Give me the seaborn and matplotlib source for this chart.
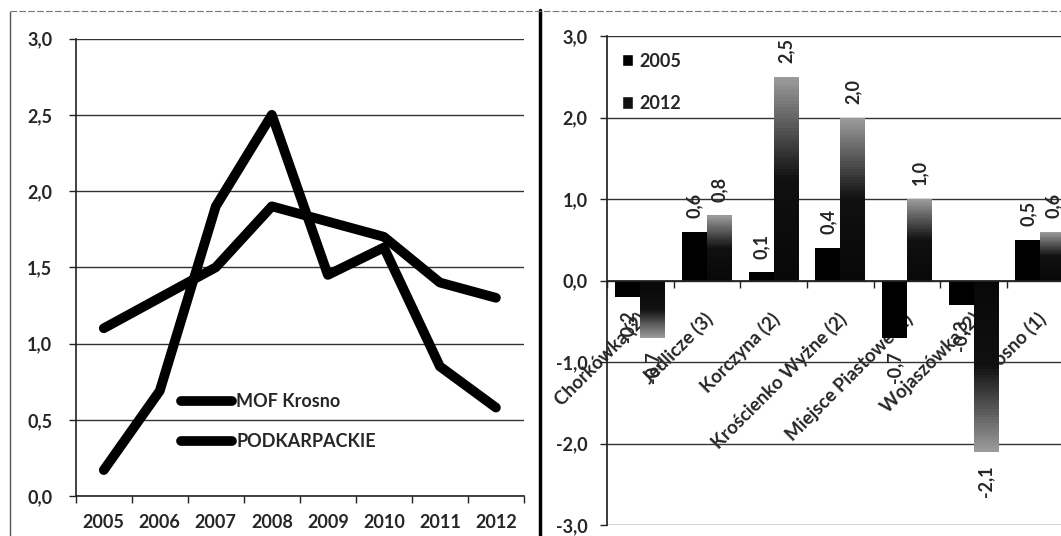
import numpy as np
import pandas as pd
import seaborn as sns
import matplotlib.pyplot as plt
from matplotlib.lines import Line2D
from matplotlib.patches import Patch
from matplotlib.colors import LinearSegmentedColormap
import matplotlib.transforms as mtransforms

# left chart data
years = ['2005', '2006', '2007', '2008', '2009', '2010', '2011', '2012']
mof_krosno = [0.17, 0.69, 1.90, 2.50, 1.45, 1.63, 0.85, 0.58]
podkarpackie = [1.1, 1.3, 1.5, 1.9, 1.8, 1.7, 1.4, 1.3]

# right chart data
gminy = ['Chorkówka (2)', 'Jedlicze (3)', 'Korczyna (2)', 'Krościenko Wyżne (2)',
         'Miejsce Piastowe (2)', 'Wojaszówka (2)', 'Krosno (1)']
v2005 = [-0.2, 0.6, 0.1, 0.4, -0.7, -0.3, 0.5]
v2012 = [-0.7, 0.8, 2.5, 2.0, 1.0, -2.1, 0.6]

sns.set_theme(style='white')
plt.rcParams['font.family'] = ['Lato', 'DejaVu Sans']
plt.rcParams['font.weight'] = 'bold'
FS = 13

def fmt(v):
    return f'{v:.1f}'.replace('.', ',')

fig = plt.figure(figsize=(10.61, 5.36), dpi=100)

# ---- left: line chart
ax1 = fig.add_axes([0.0714, 0.0746, 0.4224, 0.8534])
dfl = pd.DataFrame({
    'rok': years * 2,
    'wartosc': mof_krosno + podkarpackie,
    'seria': ['MOF Krosno'] * len(years) + ['PODKARPACKIE'] * len(years),
})
sns.lineplot(data=dfl, x='rok', y='wartosc', hue='seria', palette=['black', 'black'],
             lw=7, ax=ax1, sort=False, legend=False)
for ln in ax1.lines:
    ln.set_solid_capstyle('round')
    ln.set_solid_joinstyle('round')
ax1.set_xlim(-0.5, len(years) - 0.5)
ax1.set_ylim(0, 3.0)
ax1.set_yticks(np.arange(0, 3.01, 0.5))
ax1.set_yticklabels([fmt(v) for v in np.arange(0, 3.01, 0.5)])
ax1.set_xticks(range(len(years)))
ax1.set_xticklabels(years)
ax1.set_xticks(np.arange(-0.5, len(years)), minor=True)
ax1.tick_params(axis='x', which='major', length=0, pad=13, labelsize=FS)
ax1.tick_params(axis='x', which='minor', length=5, width=1, color='#222', direction='out', bottom=True)
ax1.tick_params(axis='y', length=5, width=1, color='#222', direction='out', left=True, pad=12, labelsize=FS)
ax1.grid(axis='y', color='#333', lw=1)
ax1.set_axisbelow(True)
for s in ['top', 'right']:
    ax1.spines[s].set_visible(False)
for s in ['left', 'bottom']:
    ax1.spines[s].set_color('#222')
    ax1.spines[s].set_linewidth(1.2)
ax1.set_xlabel('')
ax1.set_ylabel('')
lh = [Line2D([], [], color='black', lw=7, solid_capstyle='round') for _ in range(2)]
ax1.legend(lh, ['MOF Krosno', 'PODKARPACKIE'], loc='upper left', bbox_to_anchor=(0.215, 0.245),
           frameon=False, handlelength=2.8, handletextpad=0.25, labelspacing=1.3, borderpad=0,
           prop={'size': FS, 'weight': 'bold'})

# ---- right: bar chart
ax2 = fig.add_axes([0.572, 0.0205, 0.440, 0.912])
dfb = pd.DataFrame({
    'gmina': gminy * 2,
    'wartosc': v2005 + v2012,
    'rok': ['2005'] * len(gminy) + ['2012'] * len(gminy),
})
sns.barplot(data=dfb, x='gmina', y='wartosc', hue='rok', palette=['black', '#101010'],
            width=0.75, saturation=1, errorbar=None, linewidth=0, ax=ax2, legend=False)

# gradient fill for 2012 bars (dark at the base, lighter toward the tip)
cmap = LinearSegmentedColormap.from_list('g', ['#080808', '#101010', '#9a9a9a'])
nseg = 60
for p, v in zip(list(ax2.containers[1]), v2012):
    x0 = p.get_x()
    w = p.get_width()
    step = v / nseg
    ax2.bar([x0] * nseg, [step] * nseg, bottom=[k * step for k in range(nseg)], width=w,
            align='edge', color=[cmap(k / (nseg - 1)) for k in range(nseg)],
            linewidth=0, zorder=2)
ax2.set_xlim(-0.5, len(gminy) - 0.5)
ax2.set_ylim(-3.0, 3.0)

for cont, vals in zip(ax2.containers[:2], [v2005, v2012]):
    for p, v in zip(cont, vals):
        xc = p.get_x() + p.get_width() / 2
        ax2.annotate(fmt(v), (xc, v), xytext=(0, 10 if v >= 0 else -10),
                     textcoords='offset points', rotation=90, ha='center',
                     va='bottom' if v >= 0 else 'top', fontsize=FS, fontweight='bold', zorder=3)

yt = np.arange(-3, 3.01, 1.0)
ax2.set_yticks(yt)
ax2.set_yticklabels([fmt(v) for v in yt])
ax2.grid(axis='y', color='#333', lw=1)
ax2.set_axisbelow(True)
ax2.spines['bottom'].set_position(('data', 0))
for s in ['top', 'right']:
    ax2.spines[s].set_visible(False)
ax2.spines['left'].set_color('#222')
ax2.spines['bottom'].set_color('#222')
ax2.set_xticks(range(len(gminy)))
ax2.set_xticklabels(gminy, rotation=45, ha='right', rotation_mode='anchor')
ax2.set_xticks(np.arange(-0.5, len(gminy)), minor=True)
ax2.tick_params(axis='x', which='major', length=0, pad=21, labelsize=13.5)
ax2.tick_params(axis='x', which='minor', length=5, width=1, color='#222', direction='out', bottom=True)
ax2.tick_params(axis='y', length=5, width=1, color='#222', direction='out', left=True, pad=9, labelsize=FS)
shift = mtransforms.ScaledTranslation(-3 / 100, 0, fig.dpi_scale_trans)
for lab in ax2.get_xticklabels():
    lab.set_transform(lab.get_transform() + shift)
ax2.set_xlabel('')
ax2.set_ylabel('')
leg_h = [Patch(facecolor='black'), Patch(facecolor='#101010')]
ax2.legend(leg_h, ['2005', '2012'], loc='upper left', bbox_to_anchor=(0.012, 0.985),
           frameon=False, handlelength=0.65, handleheight=0.65, handletextpad=0.35,
           labelspacing=1.4, borderpad=0, prop={'size': FS, 'weight': 'bold'})

# panel frame lines
fig.add_artist(Line2D([540 / 1061, 540 / 1061], [0, 1 - 10 / 536], color='black', lw=2.5))
fig.add_artist(Line2D([10 / 1061, 10 / 1061], [0, 1 - 12 / 536], color='#555', lw=1))
fig.add_artist(Line2D([10 / 1061, 1], [1 - 11 / 536, 1 - 11 / 536], color='#777', lw=0.8, ls=(0, (6, 2))))

fig.savefig('out.png', dpi=100)
